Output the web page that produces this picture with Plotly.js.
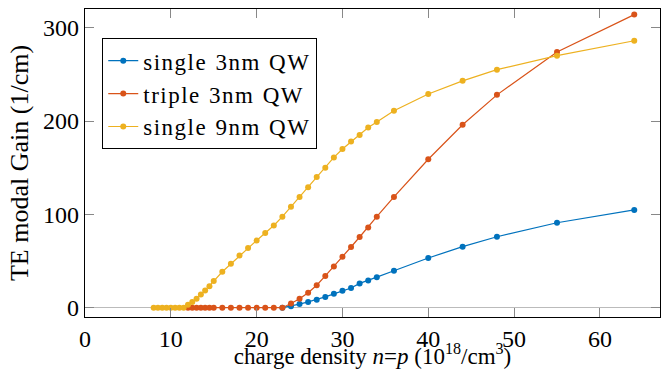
<!DOCTYPE html>
<html>
<head>
<meta charset="utf-8">
<script src="https://cdn.plot.ly/plotly-3.0.1.min.js"></script>
<style>html,body{margin:0;padding:0;background:#fff;}#chart{width:670px;height:369px;}
.legendtext{letter-spacing:1.5px;word-spacing:1px;}</style>
</head>
<body>
<div id="chart"></div>
<script>
// single 3nm QW
const xSingle3 = [23,24,25,26,27,28,29,30,31,32,33,34,36,40,44,48,55,64];
const ySingle3 = [0,1.5,3.8,6.2,8.5,11.5,14.8,18,21,26,29,32.7,39.6,53.2,65.4,76,91,104.7];
// triple 3nm QW
const xTriple3 = [12,12.5,13,13.5,14,14.5,15,16,17,18,19,20,21,22,23,24,25,26,27,28,29,30,31,32,33,34,36,40,44,48,55,64];
const yTriple3 = [0,0,0,0,0,0,0,0,0,0,0,0,0,0,0,4.5,9.5,16,24,34,44,54.6,65,75.7,86,97.5,118.6,159,196,228,274,314];
// single 9nm QW
const xSingle9 = [8,8.5,9,9.5,10,10.5,11,11.5,12,12.5,13,13.5,14,14.5,15,16,17,18,19,20,21,22,23,24,25,26,27,28,29,30,31,32,33,34,36,40,44,48,55,64];
const ySingle9 = [0,0,0,0,0,0,0,0,3,6.2,9.5,14,18.5,23,28.5,38.5,47,56,64,72,80,88,97.5,108,118.5,129,140,150,161,170,178,185,193,199,211,229,243,255,270,286];

const names = ['single 3nm QW', 'triple 3nm QW', 'single 9nm QW'];
const colors = ['#0072BD', '#D95319', '#EDB120'];
const xs = [xSingle3, xTriple3, xSingle9];
const ys = [ySingle3, yTriple3, ySingle9];

const traces = xs.map((x, i) => ({
  x: x, y: ys[i], name: names[i], type: 'scatter', mode: 'lines+markers',
  line: {color: colors[i], width: 1.2},
  marker: {color: colors[i], size: 6}
}));

const FAM = 'Liberation Serif';
function f(s) { return {family: FAM, size: s, color: '#000'}; }

const layout = {
  width: 670, height: 369,
  margin: {l: 85, r: 10, t: 9, b: 52},
  paper_bgcolor: '#fff', plot_bgcolor: '#fff',
  font: f(24),
  showlegend: true,
  legend: {
    x: 0.03, y: 0.905, xanchor: 'left', yanchor: 'top',
    bordercolor: '#000', borderwidth: 1, bgcolor: '#fff',
    font: f(23),
    tracegroupgap: 0, itemwidth: 30
  },
  xaxis: {
    range: [0, 67], tickvals: [0,10,20,30,40,50,60],
    ticks: 'inside', ticklen: 9, tickcolor: '#888', tickwidth: 1,
    showline: true, linecolor: '#000', linewidth: 1.3, mirror: 'ticks',
    showgrid: false, zeroline: false,
    tickfont: f(24),
    title: {text: 'charge density <i>n</i>=<i>p</i> (10<sup>18</sup>/cm<sup>3</sup>)', font: f(23), standoff: 2}
  },
  yaxis: {
    range: [-10, 320], tickvals: [0,100,200,300],
    ticks: 'inside', ticklen: 9, tickcolor: '#888', tickwidth: 1,
    showline: true, linecolor: '#000', linewidth: 1.3, mirror: 'ticks',
    showgrid: false, zeroline: true, zerolinecolor: '#bbb', zerolinewidth: 1,
    tickfont: f(24),
    title: {text: 'TE modal Gain (1/cm)', font: f(26), standoff: 6}
  }
};

Plotly.newPlot('chart', traces, layout, {displayModeBar: false, staticPlot: true});
</script>
</body>
</html>
